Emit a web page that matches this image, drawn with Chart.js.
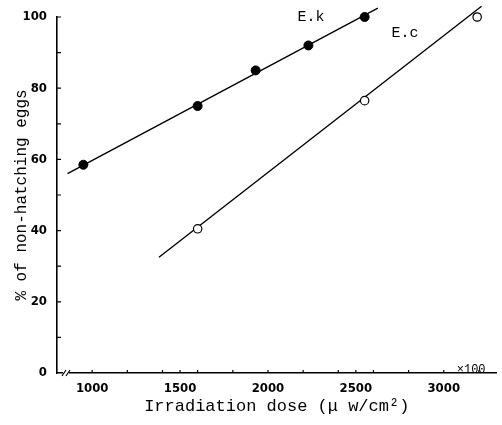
<!DOCTYPE html>
<html>
<head>
<meta charset="utf-8">
<script src="https://cdn.jsdelivr.net/npm/chart.js@4.4.1/dist/chart.umd.min.js"></script>
<style>
  html, body { margin: 0; padding: 0; background: #fff; }
  #wrap { width: 502px; height: 425px; }
</style>
</head>
<body>
<div id="wrap"><canvas id="doseChart"></canvas></div>
<script>
// ====== Data ======
const ekDose = [950, 1600, 1930, 2230, 2550];
const ekPct = [58.5, 75, 85, 92, 100];
const ecDose = [1600, 2550, 3190];
const ecPct = [40.5, 76.5, 100];

// fitted lines drawn in the figure (end points)
const ekFitDose = [860, 2625];
const ekFitPct = [56, 102.5];
const ecFitDose = [1380, 3215];
const ecFitPct = [32.5, 103];

const seriesNames = ['E.k', 'E.c'];
const xTickValues = [1000, 1500, 2000, 2500, 3000];
const xMinorTicks = [1000, 1200, 1400, 1500, 1600, 1800, 2000, 2200, 2400, 2500, 2600, 2800, 3000, 3200];
const yTickValues = [0, 20, 40, 60, 80, 100];
const yMinorTicks = [10, 20, 30, 40, 50, 60, 70, 80, 90, 100];

// where the series names sit, in data units
const nameAnchors = [{ x: 2245, y: 100 }, { x: 2780, y: 95.5 }];

const monoFont = "'Liberation Mono', 'DejaVu Sans Mono', monospace";
const tickFont = "'Liberation Sans Narrow', 'DejaVu Sans Condensed', sans-serif";

const pts = (xs, ys) => xs.map((x, i) => ({ x: x, y: ys[i] }));

// inner ticks, axis break, series names, the x100 note
const decorations = {
    id: 'decorations',
    afterDraw(chart) {
        const { ctx, chartArea, scales: { x, y } } = chart;
        ctx.save();
        ctx.strokeStyle = '#000';
        ctx.lineWidth = 1.2;
        ctx.beginPath();
        yMinorTicks.forEach(v => {
            const py = y.getPixelForValue(v);
            ctx.moveTo(chartArea.left, py);
            ctx.lineTo(chartArea.left + 4, py);
        });
        xMinorTicks.forEach(v => {
            const px = x.getPixelForValue(v);
            ctx.moveTo(px, chartArea.bottom);
            ctx.lineTo(px, chartArea.bottom - 3);
        });
        ctx.stroke();

        // axis break
        const bx = chartArea.left + 8, by = chartArea.bottom;
        ctx.fillStyle = '#fff';
        ctx.fillRect(bx - 2, by - 3, 6, 6);
        ctx.beginPath();
        ctx.moveTo(bx - 3, by + 3); ctx.lineTo(bx + 1, by - 3);
        ctx.moveTo(bx + 1, by + 3); ctx.lineTo(bx + 5, by - 3);
        ctx.stroke();

        ctx.fillStyle = '#000';
        ctx.font = '15px ' + monoFont;
        ctx.textAlign = 'center';
        ctx.textBaseline = 'middle';
        seriesNames.forEach((name, i) => {
            ctx.fillText(name, x.getPixelForValue(nameAnchors[i].x), y.getPixelForValue(nameAnchors[i].y));
        });

        ctx.font = '12px ' + monoFont;
        ctx.textAlign = 'left';
        ctx.fillText('\u00d7100', x.getPixelForValue(3000) + 13, chartArea.bottom - 3);
        ctx.restore();
    }
};

new Chart(document.getElementById('doseChart'), {
    type: 'scatter',
    data: {
        datasets: [
            { label: seriesNames[0], data: pts(ekDose, ekPct), order: 0, showLine: false,
              pointRadius: 4.5, pointBackgroundColor: '#000', pointBorderColor: '#000', pointBorderWidth: 1, clip: false },
            { label: seriesNames[1], data: pts(ecDose, ecPct), order: 0, showLine: false,
              pointRadius: 4.2, pointBackgroundColor: '#fff', pointBorderColor: '#000', pointBorderWidth: 1.2, clip: false },
            { label: 'fit E.k', data: pts(ekFitDose, ekFitPct), order: 1, showLine: true,
              borderColor: '#000', borderWidth: 1.4, pointRadius: 0, clip: false },
            { label: 'fit E.c', data: pts(ecFitDose, ecFitPct), order: 1, showLine: true,
              borderColor: '#000', borderWidth: 1.4, pointRadius: 0, clip: false }
        ]
    },
    options: {
        responsive: true,
        maintainAspectRatio: false,
        animation: false,
        layout: { padding: { left: 0, right: 5, top: 17, bottom: 0 } },
        plugins: { legend: { display: false }, tooltip: { enabled: false } },
        scales: {
            x: {
                type: 'linear', min: 800, max: 3300,
                afterBuildTicks: s => { s.ticks = xTickValues.map(v => ({ value: v })); },
                afterFit: s => { s.height = 52; },
                grid: { display: false },
                border: { display: true, color: '#000', width: 1.6 },
                ticks: { color: '#000', padding: 0, callback: v => String(v),
                         font: { family: tickFont, size: 13, weight: 'bold' } },
                title: { display: true, text: 'Irradiation dose (\u03bc w/cm\u00b2)', color: '#000',
                         font: { family: monoFont, size: 17 }, padding: { top: 0, bottom: 8 } }
            },
            y: {
                min: 0, max: 100,
                afterBuildTicks: s => { s.ticks = yTickValues.map(v => ({ value: v })); },
                afterFit: s => { s.width = 57; },
                grid: { display: false },
                border: { display: true, color: '#000', width: 1.6 },
                ticks: { color: '#000', padding: 2, callback: v => String(v),
                         font: { family: tickFont, size: 13, weight: 'bold' } },
                title: { display: true, text: '% of non-hatching eggs', color: '#000',
                         font: { family: monoFont, size: 16 }, padding: { top: 12, bottom: 0 } }
            }
        }
    },
    plugins: [decorations]
});
</script>
</body>
</html>
